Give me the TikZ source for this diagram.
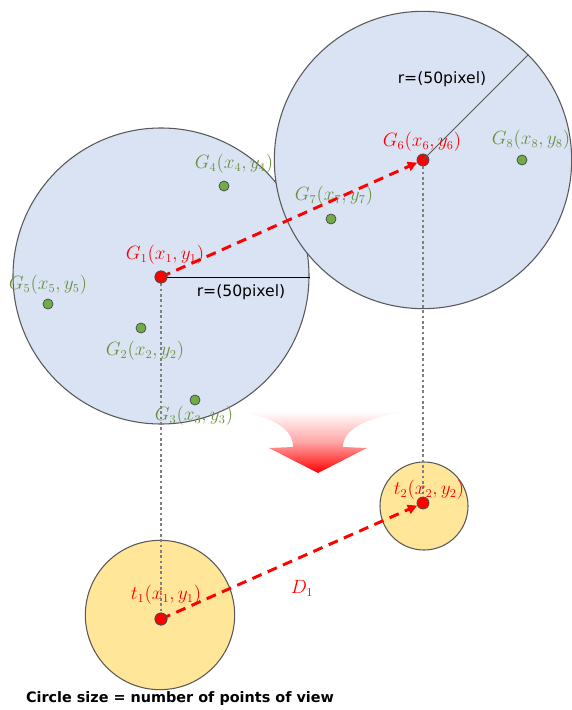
\documentclass[tikz,border=0pt]{standalone}
\usepackage{fontspec}
\setsansfont{DejaVu Sans}
\usetikzlibrary{arrows.meta}
\definecolor{bluefill}{HTML}{DAE3F3}
\definecolor{yelfill}{HTML}{FFE699}
\definecolor{edgegray}{HTML}{595959}
\definecolor{gdot}{HTML}{70AD47}
\definecolor{gtext}{HTML}{6A9140}
\definecolor{rdot}{HTML}{FF0000}
\tikzset{
  bigcirc/.style={fill=bluefill, draw=edgegray, line width=0.8pt},
  smallcirc/.style={fill=yelfill, draw=edgegray, line width=0.8pt},
  reddot/.style={circle, fill=rdot, draw=black!70, line width=0.6pt, minimum size=9pt, inner sep=0pt},
  greendot/.style={circle, fill=gdot, draw=black!70, line width=0.6pt, minimum size=7.5pt, inner sep=0pt},
  mlbl/.style={inner sep=0pt, font=\fontsize{13.5}{16}\selectfont},
  glbl/.style={mlbl, text=gtext},
  rlbl/.style={mlbl, text=red},
  rtxt/.style={inner sep=0pt, font=\sffamily\fontsize{11.7}{14}\selectfont},
  dashedarrow/.style={draw=red, line width=2.2pt, dash pattern=on 7.5pt off 5pt, -{Triangle[length=7pt,width=7pt]}},
  dottedline/.style={draw=gray, line width=1.1pt, dash pattern=on 2pt off 2pt}
}
\begin{document}
\begin{tikzpicture}[x=0.75pt,y=-0.75pt]
\useasboundingbox (0,0) rectangle (571,710);
% big circles
\fill[bluefill] (161,276) circle[radius=111pt];
\draw[bigcirc] (161,276) circle[radius=111pt];
\draw[bigcirc] (423,160) circle[radius=111.5pt];
% small circles
\draw[smallcirc] (424,506) circle[radius=33pt];
\draw[smallcirc] (160,615) circle[radius=56pt];
% big curved arrow
\shade[top color=white, bottom color=red, middle color=red!35]
  (233,411) .. controls (275,416) and (293,430) .. (293,447) -- (269,448) -- (318,473)
  -- (367,448) -- (343,447) .. controls (343,430) and (365,416) .. (415,411) -- cycle;
% dots
\node[reddot] (g1) at (161,277) {};
\node[reddot] (g6) at (423,160) {};
\node[reddot] (t2) at (423,503) {};
\node[reddot] (t1) at (161,619) {};
\node[greendot] (g2) at (141,328) {};
\node[greendot] (g3) at (195,400) {};
\node[greendot] (g4) at (224,186) {};
\node[greendot] (g5) at (48,304) {};
\node[greendot] (g7) at (331,219) {};
\node[greendot] (g8) at (522,160) {};
% radius lines
\coordinate (r1) at (310,277);
\coordinate (r2) at (528,55);
\draw[black, line width=0.7pt] (g1.center) -- (r1);
\draw[edgegray, line width=0.6pt] (g6.center) -- (r2);
% dotted projections
\draw[dottedline] (g1) -- (t1);
\draw[dottedline] (g6) -- (t2);
% dashed arrows
\draw[dashedarrow] (g1.center) -- (g6);
\draw[dashedarrow] (t1.center) -- (t2);
% redraw dots on top
\node[reddot] at (g1) {};
\node[reddot] at (t1) {};
% labels
\node[glbl] (lg4) at (234,164) {$G_4(x_4,y_4)$};
\node[glbl] (lg7) at (334,196) {$G_7(x_7,y_7)$};
\node[rlbl] (lg6) at (422,142) {$G_6(x_6,y_6)$};
\node[glbl] (lg8) at (531,140) {$G_8(x_8,y_8)$};
\node[rlbl] (lg1) at (165,255) {$G_1(x_1,y_1)$};
\node[glbl] (lg5) at (48,285) {$G_5(x_5,y_5)$};
\node[glbl] (lg2) at (145,351) {$G_2(x_2,y_2)$};
\node[glbl] (lg3) at (194,416) {$G_3(x_3,y_3)$};
\node[rlbl] (lt2) at (429,490) {$t_2(x_2,y_2)$};
\node[rlbl] (lt1) at (166,595) {$t_1(x_1,y_1)$};
\node[rlbl] (ld1) at (302,588) {$D_1$};
\node[rtxt] (rl1) at (241,292) {r=(50pixel)};
\node[rtxt] (rl2) at (442,79) {r=(50pixel)};
\node[inner sep=0pt, font=\sffamily\bfseries\fontsize{10.8}{13}\selectfont] (cap) at (180,699) {Circle size = number of points of view};
\end{tikzpicture}
\end{document}
